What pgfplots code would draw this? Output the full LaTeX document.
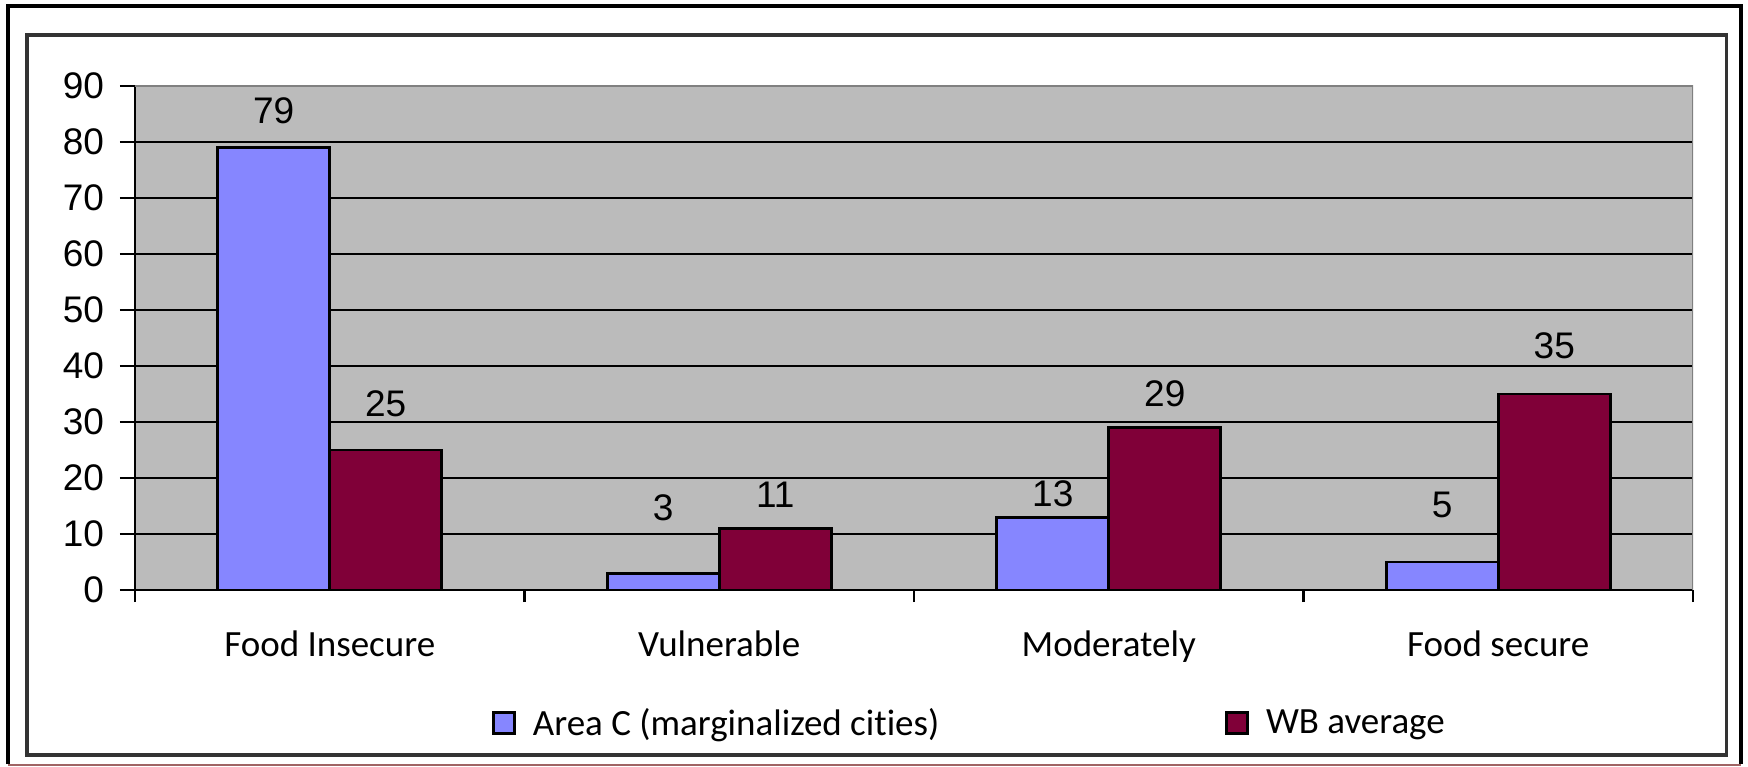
\documentclass[border=0pt]{standalone}
\usepackage{pgfplots}
\pgfplotsset{compat=1.18}
\usepackage{pgfplotstable}
\usepackage{fontspec}
\setmainfont{Liberation Sans}
\newfontfamily\calibri[Ligatures={NoCommon,NoContextual}]{Carlito}
\definecolor{barblue}{RGB}{134,134,255}
\definecolor{barred}{RGB}{128,0,56}
\definecolor{plotgray}{RGB}{187,187,187}
\pgfplotstableread{
x y off
0 79 18.5
1 3 32.5
2 13 11.5
3 5 28.5
}\areac
\pgfplotstableread{
x y off
0 25 23
1 11 17
2 29 17
3 35 24
}\wbavg
\begin{document}
\begin{tikzpicture}
\useasboundingbox (0,0) rectangle (874pt,383pt);
\begin{axis}[
  at={(67.5pt,88pt)}, anchor=south west,
  scale only axis, width=779pt, height=252pt,
  xmin=-0.5, xmax=3.5, ymin=0, ymax=90,
  ytick={0,10,...,80},
  extra y ticks={90},
  extra y tick style={grid=none},
  xtick={0,1,2,3},
  xticklabels={Food Insecure, Vulnerable, Moderately, Food secure},
  minor xtick={-0.5,0.5,1.5,2.5,3.5},
  tick align=outside,
  major tick length=7.5pt, minor tick length=6pt,
  tick style={black, line width=1.2pt},
  every major x tick/.append style={draw=none},
  axis lines*=left,
  axis line style={black, line width=1.2pt},
  axis background/.style={fill=plotgray},
  ymajorgrids, major grid style={black, line width=1.2pt},
  ybar=0pt, bar width=56pt,
  nodes near coords,
  every node near coord/.append style={font=\fontsize{18.5}{22}\selectfont, anchor=center, yshift=\off pt},
  ticklabel style={font=\fontsize{18.5}{22}\selectfont},
  xticklabel style={font=\calibri\fontsize{18.5}{22}\selectfont, anchor=base, yshift=-25.5pt},
  yticklabel style={xshift=-4.5pt},
  /pgf/number format/assume math mode=true,
  legend columns=2,
  legend style={draw=none, fill=none, at={(0.2291,-0.2639)}, anchor=west, inner sep=0pt,
    font=\calibri\fontsize{18.5}{22}\selectfont,
    /tikz/every even column/.append style={column sep=141pt}},
  legend image code/.code={\draw[#1, draw=black, line width=1.3pt] (0pt,-5.25pt) rectangle (10.5pt,5.25pt); \path (17pt,0pt);},
]
\addplot[fill=barblue, draw=black, line width=1.3pt, visualization depends on={\thisrow{off} \as \off}] table[x=x, y=y] {\areac};
\addplot[fill=barred, draw=black, line width=1.3pt, visualization depends on={\thisrow{off} \as \off}] table[x=x, y=y] {\wbavg};
\legend{Area C (marginalized cities), WB average}
\draw[color={rgb,255:red,128;green,128;blue,128}, line width=0.9pt] (rel axis cs:0,1) -- (rel axis cs:1,1) -- (rel axis cs:1,0);
\end{axis}
\draw[line width=2pt] (4pt,1pt) -- (4pt,380pt) -- (870.5pt,380pt) -- (870.5pt,1pt);
\draw[line width=0.6pt, color={rgb,255:red,160;green,100;blue,100}] (4pt,0.5pt) -- (870.5pt,0.5pt);
\draw[line width=1.6pt, black!80] (13.5pt,5.5pt) rectangle (863.25pt,365.5pt);
\end{tikzpicture}
\end{document}
